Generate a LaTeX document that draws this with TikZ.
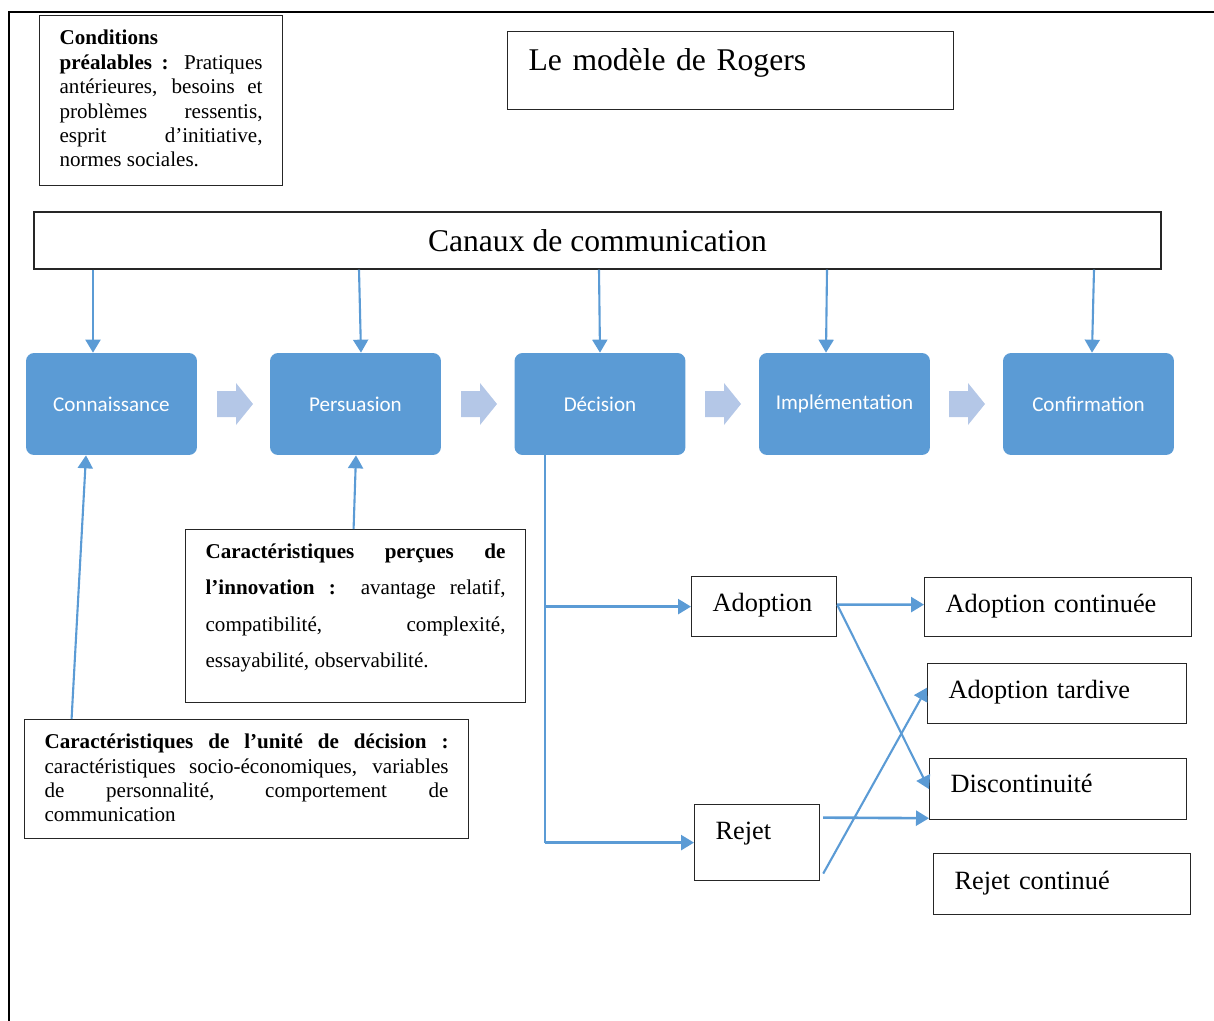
\documentclass[tikz,border=0pt]{standalone}
\usepackage{fontspec}
\setmainfont{Liberation Serif}
\newfontfamily\calibri{Carlito}
\usetikzlibrary{arrows.meta,calc}
\definecolor{officeblue}{RGB}{91,155,213}
\definecolor{chevblue}{RGB}{180,199,231}
\tolerance=9999
\hyphenpenalty=10000
\exhyphenpenalty=10000
\tikzset{
  boxline/.style={draw=black!85, line width=0.7pt},
  stage/.style={fill=officeblue, rounded corners=0.16cm, minimum width=3.42cm, minimum height=2.04cm, text=white, font=\calibri\fontsize{12}{14}\selectfont},
  outcome/.style={boxline, anchor=north west, align=left, inner xsep=0.42cm, inner ysep=0pt, font=\fontsize{15}{18}\selectfont},
  info/.style={boxline, anchor=north west, inner xsep=0.4cm, inner ysep=0.29cm},
  flow/.style={->, >={Triangle[length=0.26cm, width=0.3cm]}, draw=officeblue, line width=1.2pt},
  bold flow/.style={flow, line width=1.5pt},
}
\begin{document}
\begin{tikzpicture}[x=0.02cm, y=-0.02cm]
  \useasboundingbox (0,0) rectangle (1214,1021);
  \draw[line width=1.2pt] (1214,12) -- (9,12) -- (9,1021);

  \node[info] (cond) at (39,15) {\parbox[c][2.82cm][t]{4.06cm}{\fontsize{12}{13.9}\selectfont
    \textbf{Conditions}\\ \textbf{préalables~:} Pratiques\linebreak antérieures, besoins et\linebreak problèmes ressentis,\linebreak esprit d’initiative,\linebreak normes sociales.}};
  \node[boxline, anchor=north west, align=left, inner xsep=0.42cm, inner ysep=0pt, text width=8.08cm, text height=0.78cm, text depth=0.78cm, font=\fontsize{18}{22}\selectfont] (title) at (507,31) {Le modèle de Rogers};
  \node[boxline, minimum width=22.54cm, minimum height=1.14cm, font=\fontsize{18}{22}\selectfont] (canaux) at (597.5,240.5) {Canaux de communication};

  \node[stage] (conn) at (111.5,404) {Connaissance};
  \node[stage] (pers) at (355.5,404) {Persuasion};
  \node[stage] (deci) at (600,404) {Décision};
  \node[stage] (impl) at (844.5,404) {Implémentation};
  \node[stage] (conf) at (1088.5,404) {Confirmation};

  \foreach \x in {217,461,705,949}
    \fill[chevblue] (\x,391) -- ++(19,0) -- ++(0,-8) -- ++(17,21) -- ++(-17,21) -- ++(0,-8) -- ++(-19,0) -- cycle;

  \node[info] (percues) at (185,529) {\parbox[c][2.88cm][t]{6cm}{\fontsize{12}{20.6}\selectfont
    \textbf{Caractéristiques perçues de}\linebreak \textbf{l’innovation~:} avantage relatif,\linebreak compatibilité, complexité,\linebreak essayabilité, observabilité.}};
  \node[info] (unite) at (24,719) {\parbox[c][1.8cm][t]{8.08cm}{\fontsize{12}{13.8}\selectfont
    \textbf{Caractéristiques de l’unité de décision~:}\linebreak caractéristiques socio-économiques, variables\linebreak de personnalité, comportement de\linebreak communication}};

  \node[outcome, text width=2.06cm, text height=0.7cm, text depth=0.5cm] (adoption) at (691,576) {Adoption};
  \node[outcome, text width=1.66cm, text height=0.7cm, text depth=0.82cm] (rejet) at (694,804) {Rejet};
  \node[outcome, text width=4.5cm, text height=0.7cm, text depth=0.48cm] (adcont) at (924,577) {Adoption continuée};
  \node[outcome, text width=4.34cm, text height=0.7cm, text depth=0.5cm] (adtard) at (927,663) {Adoption tardive};
  \node[outcome, text width=4.3cm, text height=0.68cm, text depth=0.54cm] (discont) at (929,758) {Discontinuité};
  \node[outcome, text width=4.3cm, text height=0.72cm, text depth=0.5cm] (rejcont) at (933,853) {Rejet continué};

  \foreach \n/\a/\b in {conn/-18.5/-18.5, pers/3.5/5.5, deci/-1/0, impl/-17.5/-18.5, conf/5.5/3.5}
    \draw[flow] ($(\n.north |- canaux.south)+(\a,0)$) -- ($(\n.north)+(\b,0)$);

  \draw[flow] ($(unite.north)+(-175,0)$) -- ($(conn.south)+(-25.5,0)$);
  \draw[flow] ($(percues.north)+(-2,0)$) -- ($(pers.south)+(0.5,0)$);

  \coordinate (split) at ($(deci.south)+(-55,0)$);
  \draw[officeblue, line width=0.8pt] (split) -- (split |- rejet.west);
  \draw[bold flow] (split |- adoption.west) -- (adoption.west);
  \draw[bold flow] (split |- rejet.west) -- (rejet.west);

  \draw[bold flow] ($(adoption.east)+(0,-2)$) -- ($(adcont.west)+(0,-2.5)$);
  \draw[flow] ($(adoption.east)+(0,-2)$) -- (discont.west);
  \draw[bold flow] ($(rejet.east)+(3,-25)$) -- ($(discont.south west)+(0,-2)$);
  \draw[flow] ($(rejet.east)+(3,31)$) -- ($(adtard.west)+(0,-6)$);
\end{tikzpicture}
\end{document}
